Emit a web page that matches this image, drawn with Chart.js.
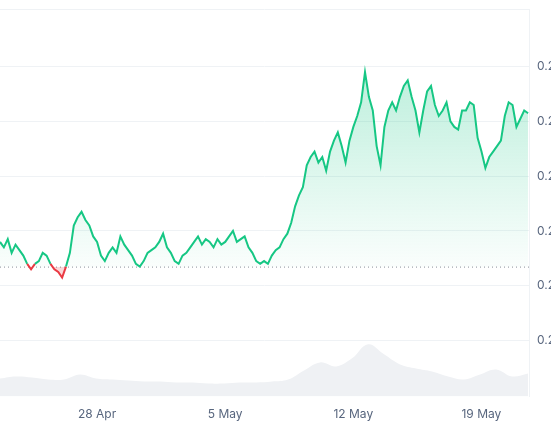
<!DOCTYPE html>
<html><head><meta charset="utf-8">
<script src="https://cdn.jsdelivr.net/npm/chart.js@4.4.1/dist/chart.umd.min.js"></script>
<style>html,body{margin:0;padding:0;overflow:hidden;background:#fff}#w{width:590px;height:437px;margin-top:-6px}</style>
</head><body><div id="w"><canvas id="c"></canvas></div>
<script>
// days relative to 28 Apr
const startDay = -5.3, endDay = 23.55, axisMin = -5.3, axisMax = 23.6;
const tickDays = [0, 7, 14, 21];
const tickLabels = ['28 Apr', '5 May', '12 May', '19 May'];
const yTicks = [0.200, 0.202, 0.204, 0.206, 0.208, 0.210];
const baseline = 0.20268;
const prices = [0.2036,0.2034,0.2037,0.2032,0.2035,0.2033,0.2031,0.2028,0.2026,0.2028,0.2029,0.2032,0.2031,0.2028,0.2026,0.2025,0.2023,0.2027,0.2032,0.2042,0.2045,0.2047,0.2044,0.2042,0.2038,0.2036,0.2031,0.2029,0.2032,0.2034,0.2032,0.2038,0.2035,0.2033,0.2031,0.2028,0.2027,0.2029,0.2032,0.2033,0.2034,0.2036,0.2039,0.2034,0.2032,0.2029,0.2028,0.2031,0.2032,0.2034,0.2036,0.2038,0.2035,0.2037,0.2036,0.2034,0.2037,0.2035,0.2036,0.2038,0.2040,0.2036,0.2037,0.2038,0.2034,0.2032,0.2029,0.2028,0.2029,0.2028,0.2031,0.2033,0.2034,0.2037,0.2039,0.2043,0.2049,0.2053,0.2056,0.2064,0.2067,0.2069,0.2065,0.2067,0.2062,0.2069,0.2073,0.2076,0.2071,0.2065,0.2073,0.2078,0.2082,0.2087,0.2098,0.2089,0.2084,0.2071,0.2064,0.2078,0.2084,0.2087,0.2084,0.2089,0.2093,0.2095,0.2089,0.2084,0.2076,0.2084,0.2091,0.2093,0.2086,0.2082,0.2084,0.2087,0.2080,0.2078,0.2077,0.2084,0.2084,0.2087,0.2086,0.2074,0.2069,0.2063,0.2067,0.2069,0.2071,0.2073,0.2082,0.2087,0.2086,0.2078,0.2081,0.2084,0.2083];
const volumes = [18,20,19,17,17,22,18,17,16,15,15,14,14,13,13,14,14,15,17,26,34,30,38,52,42,32,28,25,20,17,22,27,20,23];

const pStep = (endDay - startDay) / (prices.length - 1);
const vStep = (endDay - startDay) / (volumes.length - 1);
const priceData = prices.map((p, i) => ({x: startDay + i * pStep, y: p}));
const volData = volumes.map((v, i) => ({x: startDay + i * vStep, y: v}));

const green = '#16c784', red = '#ea3943';
new Chart(document.getElementById('c'), {
  type: 'line',
  data: { datasets: [
    { data: priceData, yAxisID: 'y', borderColor: green, borderWidth: 2, pointRadius: 0, tension: 0,
      segment: { borderColor: ctx => (ctx.p0.parsed.y < baseline || ctx.p1.parsed.y < baseline) ? red : green },
      fill: { target: {value: baseline}, above: ctx => {
          const a = ctx.chart.chartArea; if (!a) return 'rgba(22,199,132,0.2)';
          const y0 = ctx.chart.scales.y.getPixelForValue(0.2098), y1 = ctx.chart.scales.y.getPixelForValue(baseline);
          const g = ctx.chart.ctx.createLinearGradient(0, y0, 0, y1);
          g.addColorStop(0, 'rgba(22,199,132,0.28)'); g.addColorStop(1, 'rgba(22,199,132,0.02)'); return g; },
        below: 'rgba(234,57,67,0.2)' }, order: 1 },
    { data: [{x: axisMin, y: baseline}, {x: axisMax, y: baseline}], yAxisID: 'y', borderColor: '#8a8f99', borderWidth: 1,
      borderDash: [1, 3], pointRadius: 0, fill: false, order: 2 },
    { data: volData, yAxisID: 'v', borderColor: 'rgba(0,0,0,0)', backgroundColor: '#eff1f4', pointRadius: 0, tension: 0.4,
      fill: 'origin', order: 3 }
  ]},
  options: {
    responsive: true, maintainAspectRatio: false, animation: false,
    layout: { padding: { top: 0, left: 0, right: 0, bottom: 6 } },
    plugins: { legend: { display: false }, tooltip: { enabled: false } },
    scales: {
      x: { type: 'linear', min: axisMin, max: axisMax,
        afterBuildTicks: s => { s.ticks = tickDays.map(v => ({value: v})); },
        ticks: { callback: (v) => tickLabels[tickDays.indexOf(v)], color: '#58667e', font: {family: 'Inter', size: 12}, padding: 3, maxRotation: 0 },
        grid: { display: false }, border: { display: false } },
      y: { position: 'right', min: 0.19795, max: 0.2121,
        afterBuildTicks: s => { s.ticks = yTicks.concat([0.2121]).map(v => ({value: v})); },
        ticks: { callback: v => v > 0.211 ? '' : v.toFixed(3), color: '#58667e', font: {family: 'Inter', size: 12}, padding: 8 },
        grid: { color: '#eff2f5', drawTicks: false }, border: { display: true, color: '#eff2f5' }, afterFit: s => { s.width = 61; } },
      v: { display: false, min: 0, max: 385 }
    }
  }
});
</script></body></html>
